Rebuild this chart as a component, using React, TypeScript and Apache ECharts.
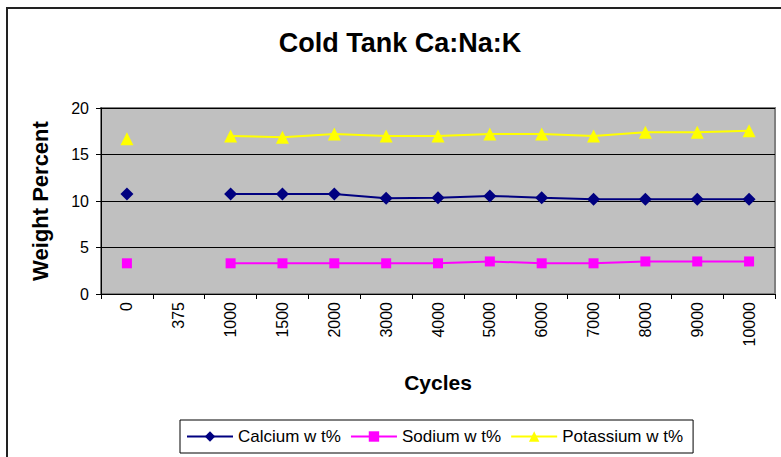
import React, { useEffect, useRef } from "react";
import * as echarts from "echarts";

const categories = ["0", "375", "1000", "1500", "2000", "3000", "4000", "5000", "6000", "7000", "8000", "9000", "10000"];
const calcium = [10.75, null, 10.75, 10.75, 10.75, 10.3, 10.35, 10.55, 10.35, 10.2, 10.2, 10.2, 10.2];
const sodium = [3.3, null, 3.3, 3.3, 3.3, 3.3, 3.3, 3.5, 3.3, 3.3, 3.5, 3.5, 3.5];
const potassium = [16.7, null, 17.0, 16.85, 17.2, 17.0, 17.0, 17.2, 17.2, 17.0, 17.4, 17.4, 17.55];
const yTicks = { min: 0, max: 20, interval: 5 };

const FONT = "'Liberation Sans', Arial, sans-serif";

export default function App() {
  const ref = useRef<HTMLDivElement>(null);
  useEffect(() => {
    if (!ref.current) return;
    const chart = echarts.init(ref.current, null, { renderer: "svg" });
    chart.setOption({
      animation: false,
      backgroundColor: "#ffffff",
      textStyle: { fontFamily: FONT, color: "#000" },
      title: {
        text: "Cold Tank Ca:Na:K",
        left: 395,
        textAlign: "center",
        top: 24,
        textStyle: { fontFamily: FONT, fontSize: 27, fontWeight: "bold", color: "#000" },
      },
      graphic: [
        { type: "line", shape: { x1: 6, y1: 8, x2: 781, y2: 8 }, style: { stroke: "#222", lineWidth: 2 } },
        { type: "line", shape: { x1: 7, y1: 8, x2: 7, y2: 457 }, style: { stroke: "#222", lineWidth: 2 } },
      ],
      legend: {
        left: 180,
        top: 420,
        padding: [8, 10, 8, 6],
        borderColor: "#000",
        borderWidth: 1,
        itemWidth: 46,
        itemHeight: 13,
        itemGap: 9,
        textStyle: { fontFamily: FONT, fontSize: 17, color: "#000" },
        data: ["Calcium w t%", "Sodium w t%", "Potassium w t%"],
      },
      grid: {
        left: 101,
        top: 108,
        right: 6,
        bottom: 163,
        show: true,
        backgroundColor: "#C0C0C0",
        borderColor: "#808080",
        borderWidth: 2,
      },
      xAxis: {
        type: "category",
        data: categories,
        boundaryGap: true,
        name: "Cycles",
        nameLocation: "middle",
        nameGap: 78,
        nameTextStyle: { fontFamily: FONT, fontSize: 21, fontWeight: "bold", color: "#000" },
        axisLine: { lineStyle: { color: "#000", width: 1 } },
        axisTick: { show: true, length: 5, lineStyle: { color: "#000" }, interval: 0 },
        axisLabel: { rotate: 90, fontSize: 16, color: "#000", fontFamily: FONT, margin: 8, interval: 0 },
        splitLine: { show: false },
      },
      yAxis: {
        type: "value",
        min: yTicks.min,
        max: yTicks.max,
        interval: yTicks.interval,
        name: "Weight Percent",
        nameLocation: "middle",
        nameGap: 50,
        nameTextStyle: { fontFamily: FONT, fontSize: 22, fontWeight: "bold", color: "#000" },
        axisLine: { show: true, lineStyle: { color: "#000", width: 1 } },
        axisTick: { show: true, length: 5, lineStyle: { color: "#000" } },
        axisLabel: { fontSize: 16, color: "#000", fontFamily: FONT, margin: 12 },
        splitLine: { show: true, lineStyle: { color: "#000", width: 1 } },
      },
      series: [
        {
          name: "Calcium w t%",
          type: "line",
          data: calcium,
          connectNulls: false,
          symbol: "diamond",
          symbolSize: 13,
          itemStyle: { color: "#000080" },
          lineStyle: { color: "#000080", width: 2 },
        },
        {
          name: "Sodium w t%",
          type: "line",
          data: sodium,
          connectNulls: false,
          symbol: "rect",
          symbolSize: 10,
          itemStyle: { color: "#FF00FF" },
          lineStyle: { color: "#FF00FF", width: 2 },
        },
        {
          name: "Potassium w t%",
          type: "line",
          data: potassium,
          connectNulls: false,
          symbol: "triangle",
          symbolSize: 13,
          itemStyle: { color: "#FFFF00" },
          lineStyle: { color: "#FFFF00", width: 2 },
        },
      ],
    });
    return () => chart.dispose();
  }, []);
  return (
    <div
      ref={ref}
      style={{ position: "absolute", left: 0, top: 0, width: 781, height: 457 }}
    />
  );
}
